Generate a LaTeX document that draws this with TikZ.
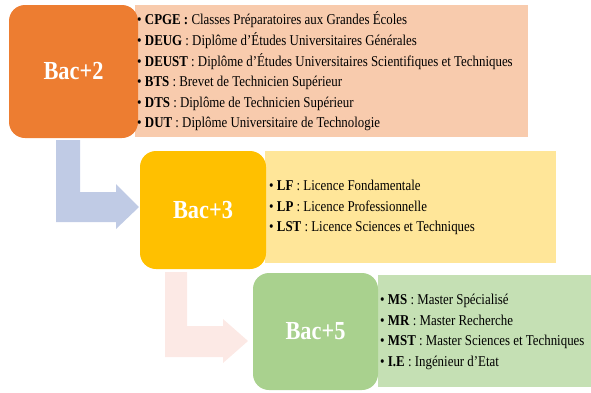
\documentclass[tikz,border=0pt]{standalone}
\usepackage{fontspec}
\setmainfont{Liberation Serif}[FakeStretch=0.86]
\definecolor{levelA}{HTML}{ED7D31}
\definecolor{panelA}{HTML}{F8CBAD}
\definecolor{levelB}{HTML}{FFC000}
\definecolor{panelB}{HTML}{FFE699}
\definecolor{levelC}{HTML}{A9D18E}
\definecolor{panelC}{HTML}{C5E0B4}
\definecolor{flowA}{HTML}{C0CBE5}
\definecolor{flowB}{HTML}{FCE9E5}
\begin{document}
\begin{tikzpicture}[x=1pt,y=-1pt,
  level/.style={rounded corners=16pt, inner sep=0pt, text=white,
    font=\bfseries\fontsize{26}{28}\selectfont},
  panel/.style={inner sep=0pt, anchor=north west},
  items/.style={anchor=west, align=left, inner sep=0pt,
    font=\fontsize{15}{20.6}\selectfont}]
\useasboundingbox (0,0) rectangle (591,392);

% background panels
\node[panel, fill=panelA, minimum width=393pt, minimum height=132pt] (pA) at (135,5) {};
\node[panel, fill=panelB, minimum width=291pt, minimum height=112pt] (pB) at (265,151) {};
\node[panel, fill=panelC, minimum width=213pt, minimum height=112pt] (pC) at (378,275) {};

% level boxes
\node[level, fill=levelA, minimum width=129pt, minimum height=133pt] (bA) at (73.5,71.5) {Bac+2};
\node[level, fill=levelB, minimum width=126pt, minimum height=118pt] (bB) at (203,210) {Bac+3};
\node[level, fill=levelC, minimum width=125pt, minimum height=117pt] (bC) at (315.5,331.5) {Bac+5};

% bent arrows
\fill[flowA] (56,140) -- (80,140) -- (80,192) -- (116,192) -- (116,184)
  -- (139,207) -- (116,229) -- (116,222) -- (56,222) -- cycle;
\fill[flowB] (165,272) -- (187,272) -- (187,326) -- (223,326) -- (223,319)
  -- (248,341) -- (223,363) -- (223,357) -- (165,357) -- cycle;

% item lists
\node[items] (tA) at (137,71.5) {%
  • \textbf{CPGE :} Classes Préparatoires aux Grandes Écoles\\
  • \textbf{DEUG} : Diplôme d'Études Universitaires Générales\\
  • \textbf{DEUST} : Diplôme d'Études Universitaires Scientifiques et Techniques\\
  • \textbf{BTS} : Brevet de Technicien Supérieur\\
  • \textbf{DTS} : Diplôme de Technicien Supérieur\\
  • \textbf{DUT} : Diplôme Universitaire de Technologie};
\node[items] (tB) at (269,207.5) {%
  • \textbf{LF} : Licence Fondamentale\\
  • \textbf{LP} : Licence Professionnelle\\
  • \textbf{LST} : Licence Sciences et Techniques};
\node[items] (tC) at (380,332) {%
  • \textbf{MS} : Master Spécialisé\\
  • \textbf{MR} : Master Recherche\\
  • \textbf{MST} : Master Sciences et Techniques\\
  • \textbf{I.E} : Ingénieur d'Etat};
\end{tikzpicture}
\end{document}
